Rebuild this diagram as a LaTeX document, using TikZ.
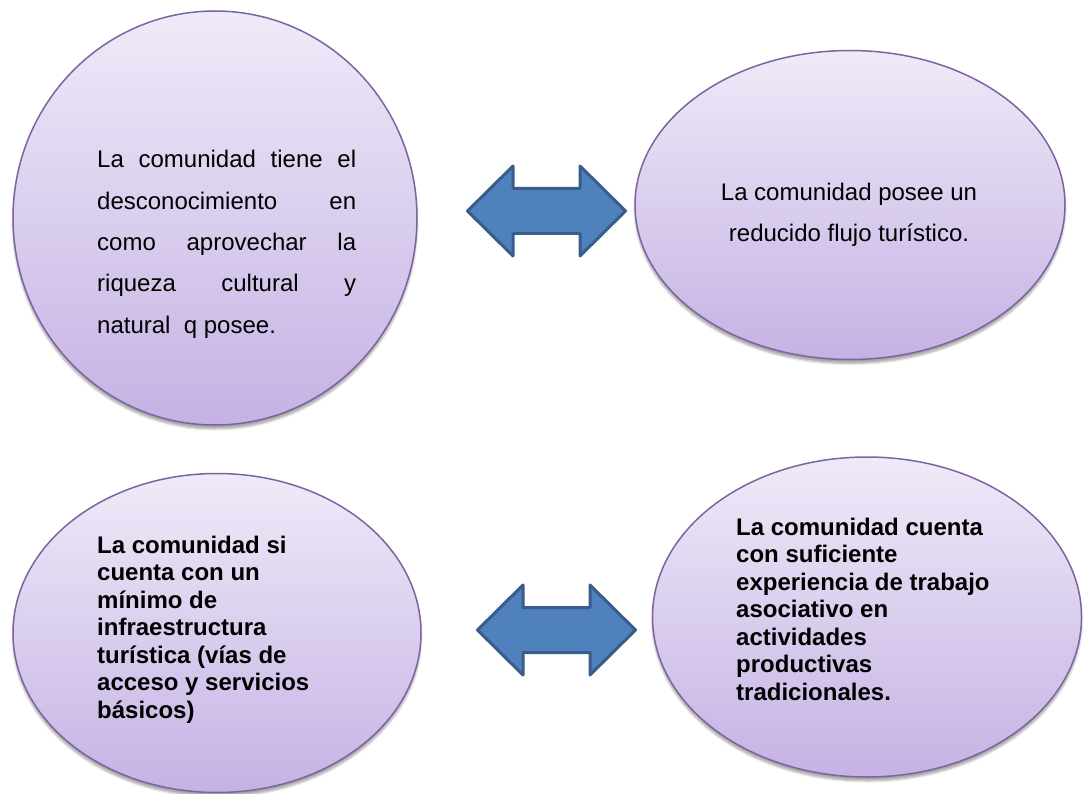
\documentclass[tikz,border=0pt]{standalone}
\usepackage{fontspec}
\setmainfont{Liberation Sans}
\usetikzlibrary{shapes.geometric,shadows.blur}
\definecolor{lilaclaro}{HTML}{EFEAF8}
\definecolor{lilaoscuro}{HTML}{C5B2E4}
\definecolor{bordelila}{HTML}{7E63A1}
\definecolor{azulflecha}{HTML}{4F81BD}
\definecolor{bordeazul}{HTML}{385D8A}
\begin{document}
\begin{tikzpicture}[x=1pt,y=-1pt,
    burbuja/.style={ellipse, draw=bordelila, line width=1.5pt, top color=lilaclaro, bottom color=lilaoscuro,
      inner sep=0pt, blur shadow={shadow xshift=0pt, shadow yshift=-4pt, shadow blur steps=6, shadow opacity=35}},
    texto/.style={inner sep=0pt, font=\fontsize{24}{41.3}\selectfont},
    negrita/.style={inner sep=0pt, align=left, font=\fontsize{24}{27.5}\selectfont\bfseries},
    flecha/.style={fill=azulflecha, draw=bordeazul, line width=3pt, line join=round}]
      \useasboundingbox (0,0) rectangle (1084,794);
      \node[burbuja, minimum width=404pt, minimum height=414pt] (desconocimiento) at (215,218) {};
      \node[burbuja, minimum width=430pt, minimum height=309pt] (flujo) at (850,205) {};
      \node[burbuja, minimum width=408pt, minimum height=319pt] (infraestructura) at (217,633) {};
      \node[burbuja, minimum width=429pt, minimum height=320pt] (experiencia) at (867,617) {};
      \foreach \cx/\cy in {546.5/211, 556.5/630} {
        \draw[flecha] (\cx-79,\cy) -- (\cx-33.5,\cy-45) -- (\cx-33.5,\cy-22.5) -- (\cx+33.5,\cy-22.5)
          -- (\cx+33.5,\cy-45) -- (\cx+79,\cy) -- (\cx+33.5,\cy+45) -- (\cx+33.5,\cy+22.5)
          -- (\cx-33.5,\cy+22.5) -- (\cx-33.5,\cy+45) -- cycle;
      }
      % the base anchor sits on the last line
      \node[texto, align=left, anchor=base west] (txtdesconocimiento) at (97,333) {%
        \makebox[259pt][s]{La comunidad tiene el}\\
        \makebox[259pt][s]{desconocimiento en}\\
        \makebox[259pt][s]{como aprovechar la}\\
        \makebox[259pt][s]{riqueza cultural y}\\
        natural\ \ q posee.};
      \node[texto, align=center, anchor=base] (txtflujo) at (849,242) {La comunidad posee un\\reducido flujo turístico.};
      \node[negrita, anchor=base west] (txtinfraestructura) at (97,718) {La comunidad si\\cuenta con un\\mínimo de\\infraestructura\\turística (vías de\\acceso y servicios\\básicos)};
      \node[negrita, anchor=base west] (txtexperiencia) at (736,700) {La comunidad cuenta\\con suficiente\\experiencia de trabajo\\asociativo en\\actividades\\productivas\\tradicionales.};
\end{tikzpicture}
\end{document}
